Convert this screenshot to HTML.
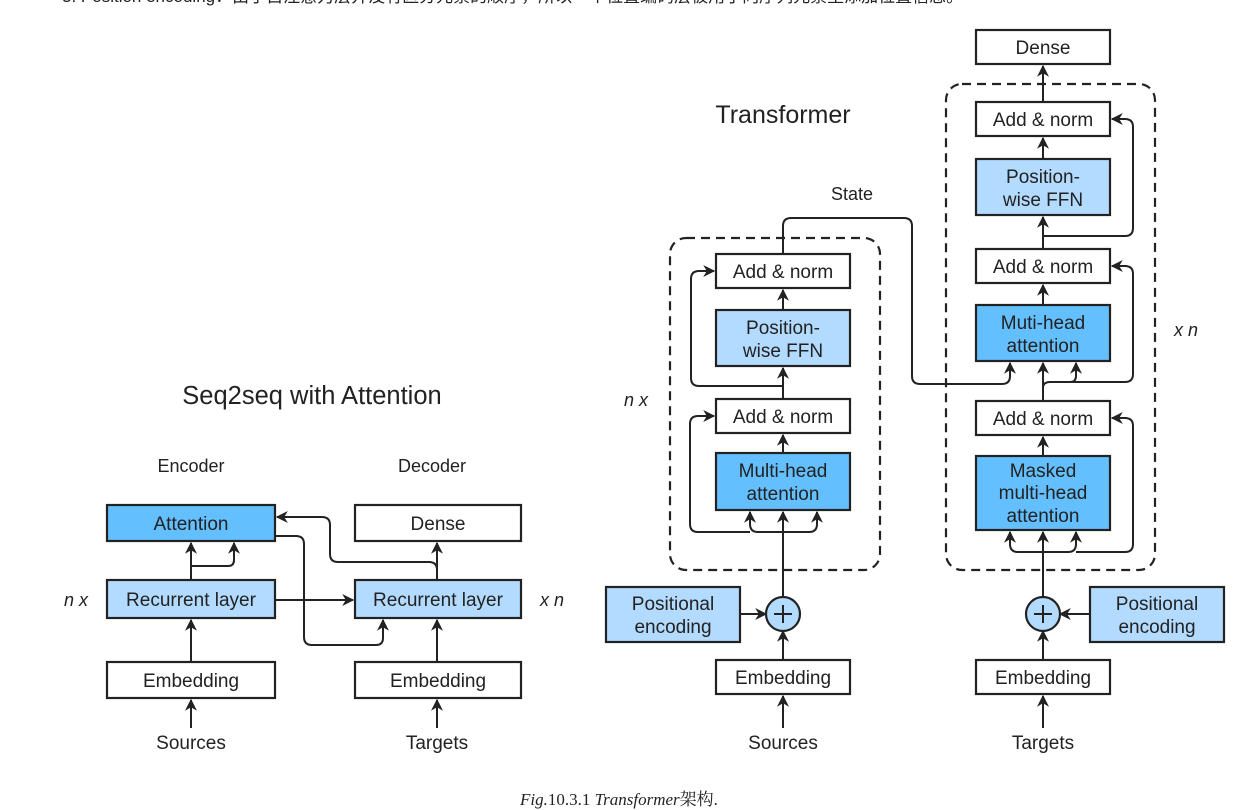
<!DOCTYPE html>
<html><head><meta charset="utf-8"><style>
html,body{margin:0;padding:0;background:#fff;}
svg{display:block;}
text{font-family:"Liberation Sans","Noto Sans CJK SC",sans-serif;fill:#222;}
</style></head><body>
<svg width="1254" height="810" viewBox="0 0 1254 810" xmlns="http://www.w3.org/2000/svg">
<defs>
<marker id="a" viewBox="0 0 10 10" refX="9" refY="5" markerWidth="12" markerHeight="12" orient="auto-start-reverse" markerUnits="userSpaceOnUse"><path d="M0,0 L10,5 L0,10 L3,5 z" fill="#222"/></marker>
</defs>
<text x="62" y="2" font-size="17">3. Position encoding：由于自注意力层并没有区分元素的顺序，所以一个位置编码层被用于向序列元素里添加位置信息。</text>

<g stroke="#222" stroke-width="2.2">
<rect x="107" y="505" width="168" height="36" fill="#64bfff"/>
<rect x="355" y="505" width="166" height="36" fill="#fff"/>
<rect x="107" y="580" width="168" height="38" fill="#b3dbff"/>
<rect x="355" y="580" width="166" height="38" fill="#b3dbff"/>
<rect x="107" y="662" width="168" height="36" fill="#fff"/>
<rect x="355" y="662" width="166" height="36" fill="#fff"/>
<rect x="670" y="238" width="210" height="332" rx="16" fill="none" stroke-dasharray="9,6"/>
<rect x="716" y="254" width="134" height="34" fill="#fff"/>
<rect x="716" y="310" width="134" height="56" fill="#b3dbff"/>
<rect x="716" y="399" width="134" height="34" fill="#fff"/>
<rect x="716" y="453" width="134" height="57" fill="#64bfff"/>
<rect x="606" y="587" width="134" height="55" fill="#b3dbff"/>
<rect x="716" y="660" width="134" height="34" fill="#fff"/>
<circle cx="783" cy="614" r="17" fill="#b3dbff"/>
<rect x="946" y="84" width="209" height="486" rx="16" fill="none" stroke-dasharray="9,6"/>
<rect x="976" y="30" width="134" height="34" fill="#fff"/>
<rect x="976" y="102" width="134" height="34" fill="#fff"/>
<rect x="976" y="159" width="134" height="56" fill="#b3dbff"/>
<rect x="976" y="249" width="134" height="34" fill="#fff"/>
<rect x="976" y="305" width="134" height="56" fill="#64bfff"/>
<rect x="976" y="401" width="134" height="34" fill="#fff"/>
<rect x="976" y="456" width="134" height="74" fill="#64bfff"/>
<rect x="1090" y="587" width="134" height="55" fill="#b3dbff"/>
<rect x="976" y="660" width="134" height="34" fill="#fff"/>
<circle cx="1043" cy="614" r="17" fill="#b3dbff"/>
</g>

<g stroke="#222" stroke-width="2" fill="none" marker-end="url(#a)">
<path d="M191 728 V700"/><path d="M437 728 V700"/>
<path d="M191 662 V620"/><path d="M437 662 V620"/>
<path d="M191 580 V543"/>
<path d="M191 566 H228 Q234 566 234 560 V543"/>
<path d="M275 600 H353"/>
<path d="M276 536 H296 Q304 536 304 544 V637 Q304 645 312 645 H376 Q383 645 383 638 V620"/>
<path d="M437 580 V543"/>
<path d="M437 570 Q437 562 429 562 H338 Q330 562 330 554 V525 Q330 517 322 517 H277"/>
<path d="M783 728 V696"/>
<path d="M783 660 V631"/>
<path d="M740 614 H766"/>
<path d="M783 597 V512"/>
<path d="M783 532 H758 Q750 532 750 524 V512"/>
<path d="M783 532 H809 Q817 532 817 524 V512"/>
<path d="M750 532 H698 Q690 532 690 524 V424 Q690 416 698 416 H714"/>
<path d="M783 453 V435"/>
<path d="M783 399 V368"/>
<path d="M783 386 H699 Q691 386 691 378 V279 Q691 271 699 271 H714"/>
<path d="M783 310 V290"/>
<path d="M783 254 V226 Q783 218 791 218 H904 Q912 218 912 226 V376 Q912 384 920 384 H1002 Q1010 384 1010 376 V363"/>
<path d="M1043 728 V696"/>
<path d="M1043 660 V631"/>
<path d="M1090 614 H1060"/>
<path d="M1043 597 V532"/>
<path d="M1043 552 H1018 Q1010 552 1010 544 V532"/>
<path d="M1043 552 H1068 Q1076 552 1076 544 V532"/>
<path d="M1076 552 H1125 Q1133 552 1133 544 V426 Q1133 418 1125 418 H1112"/>
<path d="M1043 456 V437"/>
<path d="M1043 401 V363"/>
<path d="M1043 388 Q1043 382 1050 382 H1070 Q1076 382 1076 376 V363"/>
<path d="M1070 382 H1125 Q1133 382 1133 374 V274 Q1133 266 1125 266 H1112"/>
<path d="M1043 305 V285"/>
<path d="M1043 249 V217"/>
<path d="M1043 236 H1125 Q1133 236 1133 228 V127 Q1133 119 1125 119 H1112"/>
<path d="M1043 159 V138"/>
<path d="M1043 102 V66"/>
</g>
<g stroke="#222" stroke-width="2">
<path d="M783 605 V623 M774 614 H792"/>
<path d="M1043 605 V623 M1034 614 H1052"/>
</g>

<g font-size="19" text-anchor="middle">
<text x="312" y="404" font-size="25.5">Seq2seq with Attention</text>
<text x="191" y="472" font-size="18">Encoder</text>
<text x="432" y="472" font-size="18">Decoder</text>
<text x="191" y="530">Attention</text>
<text x="438" y="530">Dense</text>
<text x="191" y="606">Recurrent layer</text>
<text x="438" y="606">Recurrent layer</text>
<text x="191" y="687">Embedding</text>
<text x="438" y="687">Embedding</text>
<text x="191" y="749">Sources</text>
<text x="437" y="749">Targets</text>
<text x="76" y="606" font-style="italic" font-size="18">n x</text>
<text x="552" y="606" font-style="italic" font-size="18">x n</text>

<text x="783" y="123" font-size="25">Transformer</text>
<text x="852" y="200" font-size="18">State</text>
<text x="636" y="406" font-style="italic" font-size="18">n x</text>
<text x="1186" y="336" font-style="italic" font-size="18">x n</text>
<text x="783" y="278">Add &amp; norm</text>
<text x="783" y="334">Position-</text>
<text x="783" y="357">wise FFN</text>
<text x="783" y="423">Add &amp; norm</text>
<text x="783" y="477">Multi-head</text>
<text x="783" y="500">attention</text>
<text x="673" y="610">Positional</text>
<text x="673" y="633">encoding</text>
<text x="783" y="684">Embedding</text>
<text x="783" y="749">Sources</text>

<text x="1043" y="54">Dense</text>
<text x="1043" y="126">Add &amp; norm</text>
<text x="1043" y="183">Position-</text>
<text x="1043" y="206">wise FFN</text>
<text x="1043" y="273">Add &amp; norm</text>
<text x="1043" y="329">Muti-head</text>
<text x="1043" y="352">attention</text>
<text x="1043" y="425">Add &amp; norm</text>
<text x="1043" y="477">Masked</text>
<text x="1043" y="499">multi-head</text>
<text x="1043" y="522">attention</text>
<text x="1157" y="610">Positional</text>
<text x="1157" y="633">encoding</text>
<text x="1043" y="684">Embedding</text>
<text x="1043" y="749">Targets</text>
</g>
<text x="520" y="805" font-size="17" font-style="italic" style="font-family:'Liberation Serif','Noto Serif CJK SC',serif">Fig.<tspan font-style="normal">10.3.1</tspan> Transformer<tspan font-style="normal">架构.</tspan></text>
</svg>
</body></html>
